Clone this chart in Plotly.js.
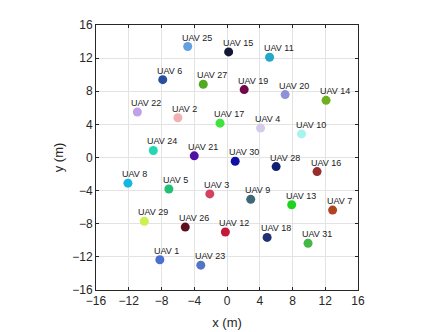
<!DOCTYPE html>
<html>
<head>
<meta charset="utf-8">
<script src="https://cdn.plot.ly/plotly-3.0.1.min.js"></script>
<style>
  html, body { margin: 0; padding: 0; background: #fff; }
  #chart { width: 442px; height: 332px; }
</style>
</head>
<body>
<div id="chart"></div>
<script>
// UAV positions (m)
const uavIds = [1, 2, 3, 4, 5, 6, 7, 8, 9, 10, 11, 12, 13, 14, 15, 16,
  17, 18, 19, 20, 21, 22, 23, 24, 25, 26, 27, 28, 29, 30, 31];
const xPos = [-8.2, -6.0, -2.1, 4.1, -7.1, -7.85, 12.9, -12.1, 2.9, 9.1, 5.2, -0.2, 7.9, 12.1, 0.2, 11.0,
  -0.85, 4.9, 2.1, 7.1, -4.0, -10.95, -3.2, -9.0, -4.8, -5.1, -2.9, 6.0, -10.1, 1.0, 9.9];
const yPos = [-12.35, 4.8, -4.4, 3.55, -3.8, 9.4, -6.35, -3.1, -5.05, 2.85, 12.1, -9.0, -5.7, 6.9, 12.75, -1.7,
  4.15, -9.65, 8.2, 7.6, 0.2, 5.5, -13.0, 0.85, 13.4, -8.4, 8.85, -1.1, -7.7, -0.45, -10.35];
const uavColors = ["#4a6fd0", "#f2b0b0", "#d24262", "#d4cce8", "#22c074", "#2a4fa0", "#b0441e", "#12b8e0",
  "#3e6878", "#a8f2f0", "#22a8c8", "#c41838", "#1ed21e", "#70b020", "#141834", "#962e2e",
  "#3ee43e", "#203070", "#70084a", "#9090d8", "#5010a4", "#c2a0e8", "#5474c8", "#22d8b2",
  "#62a0e2", "#5e1020", "#52aa20", "#102070", "#ccf050", "#1010a4", "#44b844"];
const tickVals = [-16, -12, -8, -4, 0, 4, 8, 12, 16];

const labels = uavIds.map(id => "UAV " + id);

const axisBase = {
  range: [-16, 16],
  tickvals: tickVals,
  showgrid: true,
  gridcolor: "#e3e3e3",
  gridwidth: 1,
  zeroline: false,
  showline: true,
  linecolor: "#262626",
  linewidth: 1,
  mirror: "ticks",
  ticks: "inside",
  ticklen: 3,
  tickcolor: "#262626",
  tickfont: { family: "Liberation Sans, Arial", size: 12, color: "#262626" }
};

Plotly.newPlot("chart", [{
  x: xPos,
  y: yPos,
  type: "scatter",
  mode: "markers",
  marker: { size: 9, color: uavColors },
  hoverinfo: "text",
  text: labels
}], {
  width: 442,
  height: 332,
  showlegend: false,
  paper_bgcolor: "#fff",
  plot_bgcolor: "#fff",
  margin: { l: 96, r: 84, t: 25, b: 42 },
  xaxis: Object.assign({}, axisBase, {
    title: { text: "x (m)", font: { family: "Liberation Sans, Arial", size: 13, color: "#262626" }, standoff: 10 }
  }),
  yaxis: Object.assign({}, axisBase, {
    title: { text: "y (m)", font: { family: "Liberation Sans, Arial", size: 13, color: "#262626" }, standoff: 5 }
  }),
  annotations: labels.map((t, i) => ({
    x: xPos[i],
    y: yPos[i],
    text: t,
    showarrow: false,
    xanchor: "left",
    yanchor: "bottom",
    xshift: -8,
    yshift: 2,
    font: { family: "Liberation Sans, Arial", size: 9, color: "#1a1a1a" }
  }))
}, { displayModeBar: false, staticPlot: true });
</script>
</body>
</html>
